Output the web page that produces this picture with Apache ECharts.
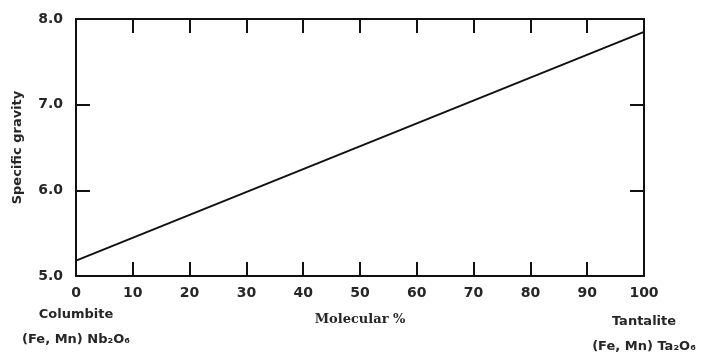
<!DOCTYPE html>
<html><head><meta charset="utf-8">
<script src="https://cdn.jsdelivr.net/npm/echarts@6/dist/echarts.min.js"></script>
<style>html,body{margin:0;padding:0;background:#fff}#c{width:718px;height:363px}</style>
</head><body><div id="c"></div>
<script>
const molPercent = [0, 100];
const specificGravity = [5.18, 7.85];
const xTicks = [0, 10, 20, 30, 40, 50, 60, 70, 80, 90, 100];
const yTicks = [5.0, 6.0, 7.0, 8.0];
const endLeft = ['Columbite', '(Fe, Mn) Nb\u2082O\u2086'];
const endRight = ['Tantalite', '(Fe, Mn) Ta\u2082O\u2086'];
const xName = 'Molecular %';
const yName = 'Specific gravity';

const font = 'DejaVu Sans';
const col = '#262626';
const chart = echarts.init(document.getElementById('c'));
const lineStyle = {color: '#111', width: 2};
const endRich = {
  c: {fontFamily: font, fontWeight: 'bold', fontSize: 13, color: col, lineHeight: 24, align: 'center', opacity: 1},
  f: {fontFamily: font, fontWeight: 'bold', fontSize: 13, color: col, lineHeight: 26, align: 'center', opacity: 1}
};
chart.setOption({
  backgroundColor: '#fff',
  animation: false,
  grid: {left: 76, right: 74, top: 19, bottom: 87, containLabel: false, outerBoundsMode: 'none'},
  xAxis: [{
    type: 'value', min: 0, max: 100, interval: 10,
    name: xName, nameLocation: 'middle', nameGap: 37, nameMoveOverlap: false,
    nameTextStyle: {fontFamily: 'DejaVu Serif', fontWeight: 'bold', fontSize: 13, color: col},
    axisLine: {onZero: false, lineStyle}, splitLine: {show: false},
    axisTick: {inside: true, length: 14, lineStyle},
    axisLabel: {margin: 10, showMinLabel: true, showMaxLabel: true,
      fontFamily: font, fontWeight: 'bold', fontSize: 14, color: col}
  }, {
    type: 'value', min: 0, max: 100, interval: 10, position: 'top',
    axisLine: {show: true, onZero: false, lineStyle}, splitLine: {show: false},
    axisTick: {inside: true, length: 14, lineStyle},
    axisLabel: {show: false}
  }],
  yAxis: [{
    type: 'value', min: 5, max: 8, interval: 1,
    name: yName, nameLocation: 'middle', nameGap: 52, nameMoveOverlap: false,
    nameTextStyle: {fontFamily: font, fontWeight: 'bold', fontSize: 13, color: col},
    axisLine: {show: true, onZero: false, lineStyle}, splitLine: {show: false},
    axisTick: {inside: true, length: 14, lineStyle},
    axisLabel: {margin: 13, showMinLabel: true, showMaxLabel: true, fontFamily: font, fontWeight: 'bold', fontSize: 14, color: col, formatter: v => v.toFixed(1)}
  }, {
    type: 'value', min: 5, max: 8, interval: 1, position: 'right',
    axisLine: {show: true, onZero: false, lineStyle}, splitLine: {show: false},
    axisTick: {inside: true, length: 14, lineStyle},
    axisLabel: {show: false}
  }],
  series: [{
    type: 'line', symbol: 'none',
    data: molPercent.map((x, i) => [x, specificGravity[i]]),
    lineStyle: {color: '#111', width: 2}
  }, {
    type: 'scatter', symbolSize: 0, silent: true, clip: false, z: 10,
    itemStyle: {opacity: 1},
    data: [
      {value: [xTicks[0], yTicks[0]], label: {distance: 27, formatter: '{c|' + endLeft[0] + '}\n{f|' + endLeft[1] + '}'}},
      {value: [xTicks[xTicks.length - 1], yTicks[0]], label: {distance: 34, formatter: '{c|' + endRight[0] + '}\n{f|' + endRight[1] + '}'}}
    ],
    label: {show: true, position: 'bottom', color: col, opacity: 1, rich: endRich}
  }]
});
</script></body></html>
